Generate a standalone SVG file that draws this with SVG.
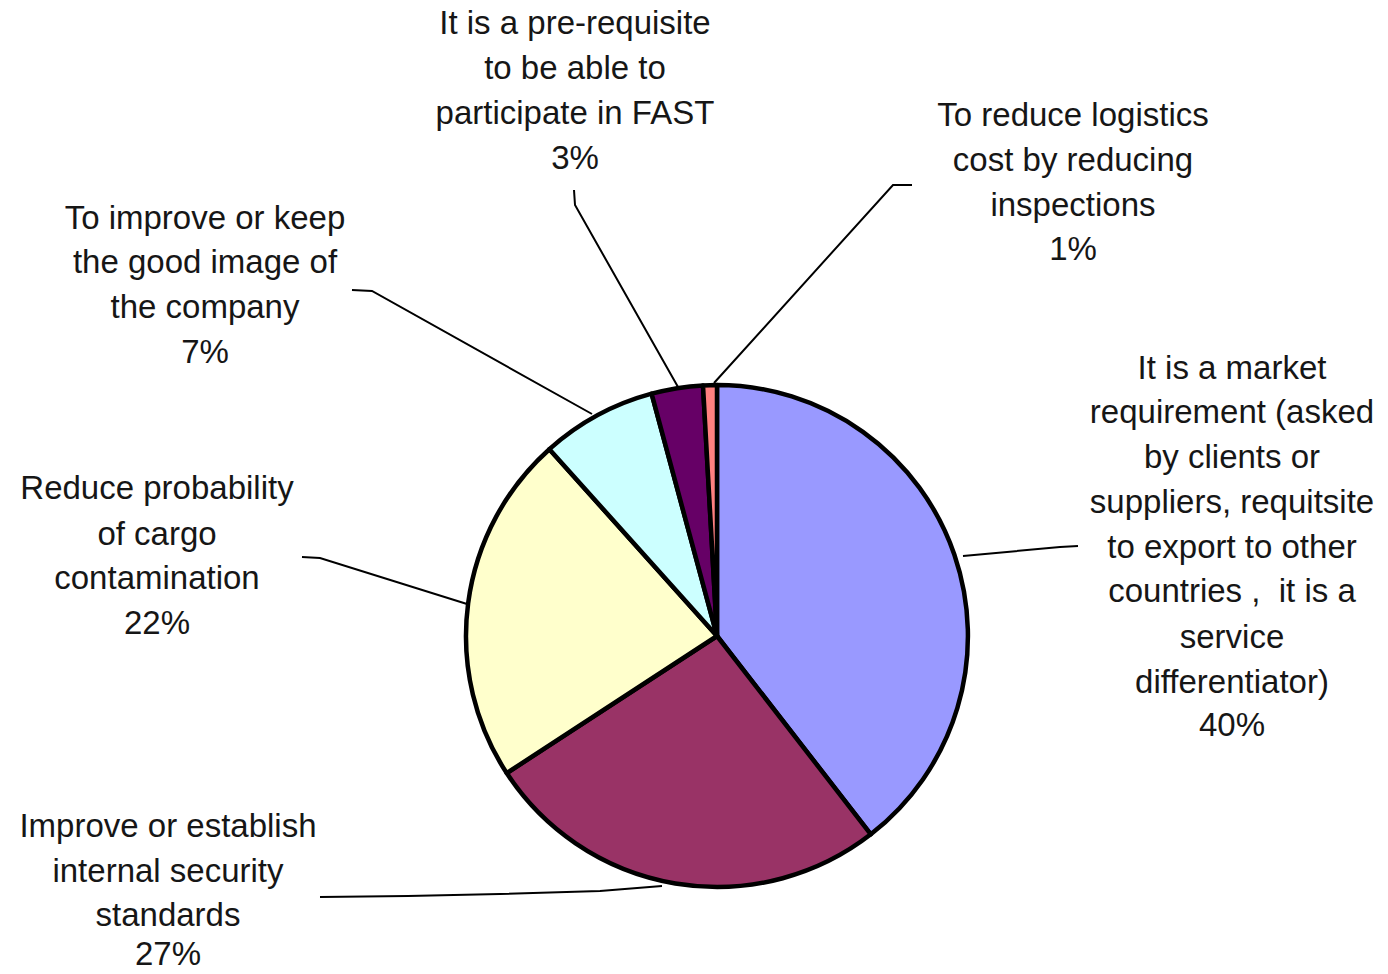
<svg xmlns="http://www.w3.org/2000/svg" width="1388" height="974" viewBox="0 0 1388 974">
<style>
.sl{stroke:#000;stroke-width:4.5;stroke-linejoin:round}
.ld{fill:none;stroke:#000;stroke-width:2}
.t{font-family:"Liberation Sans",Arial,sans-serif;font-size:33px;fill:#161616;text-anchor:middle;white-space:pre}
</style>
<rect width="1388" height="974" fill="#fff"/>
<g id="slices">
<path id="s40" class="sl" fill="#9999FF" d="M717,636 L717,385 A251,251 0 0 1 870.8,834.3 Z"/>
<path id="s27" class="sl" fill="#993366" d="M717,636 L870.8,834.3 A251,251 0 0 1 506.7,773.1 Z"/>
<path id="s22" class="sl" fill="#FFFFCC" d="M717,636 L506.7,773.1 A251,251 0 0 1 549.4,449.2 Z"/>
<path id="s7" class="sl" fill="#CCFFFF" d="M717,636 L549.4,449.2 A251,251 0 0 1 651.6,393.7 Z"/>
<path id="s3" class="sl" fill="#660066" d="M717,636 L651.6,393.7 A251,251 0 0 1 703,385.4 Z"/>
<path id="s1" class="sl" fill="#FF8080" d="M717,636 L703,385.4 A251,251 0 0 1 717,385 Z"/>
</g>
<g id="connectors">
<polyline class="ld" points="574,190 575,205 678,387"/>
<polyline class="ld" points="912,185 893,185 714,383"/>
<polyline class="ld" points="352,290 372,291 592,414"/>
<polyline class="ld" points="302,557 320,558 467,604"/>
<polyline class="ld" points="320,897 408,896 500,894 600,891 662,886"/>
<polyline class="ld" points="1078,546 1060,547 963,556"/>
</g>
<g id="label-3">
<text class="t" x="575" y="34">It is a pre-requisite</text>
<text class="t" x="575" y="79">to be able to</text>
<text class="t" x="575" y="124">participate in FAST</text>
<text class="t" x="575" y="169">3%</text>
</g>
<g id="label-1">
<text class="t" x="1073" y="126">To reduce logistics</text>
<text class="t" x="1073" y="171">cost by reducing</text>
<text class="t" x="1073" y="216">inspections</text>
<text class="t" x="1073" y="260">1%</text>
</g>
<g id="label-7">
<text class="t" x="205" y="229">To improve or keep</text>
<text class="t" x="205" y="273">the good image of</text>
<text class="t" x="205" y="318">the company</text>
<text class="t" x="205" y="363">7%</text>
</g>
<g id="label-22">
<text class="t" x="157" y="499">Reduce probability</text>
<text class="t" x="157" y="545">of cargo</text>
<text class="t" x="157" y="589">contamination</text>
<text class="t" x="157" y="634">22%</text>
</g>
<g id="label-27">
<text class="t" x="168" y="837">Improve or establish</text>
<text class="t" x="168" y="882">internal security</text>
<text class="t" x="168" y="926">standards</text>
<text class="t" x="168" y="965">27%</text>
</g>
<g id="label-40">
<text class="t" x="1232" y="379">It is a market</text>
<text class="t" x="1232" y="423">requirement (asked</text>
<text class="t" x="1232" y="468">by clients or</text>
<text class="t" x="1232" y="513">suppliers, requitsite</text>
<text class="t" x="1232" y="558">to export to other</text>
<text class="t" x="1232" y="602">countries ,  it is a</text>
<text class="t" x="1232" y="648">service</text>
<text class="t" x="1232" y="693">differentiator)</text>
<text class="t" x="1232" y="736">40%</text>
</g>
</svg>
